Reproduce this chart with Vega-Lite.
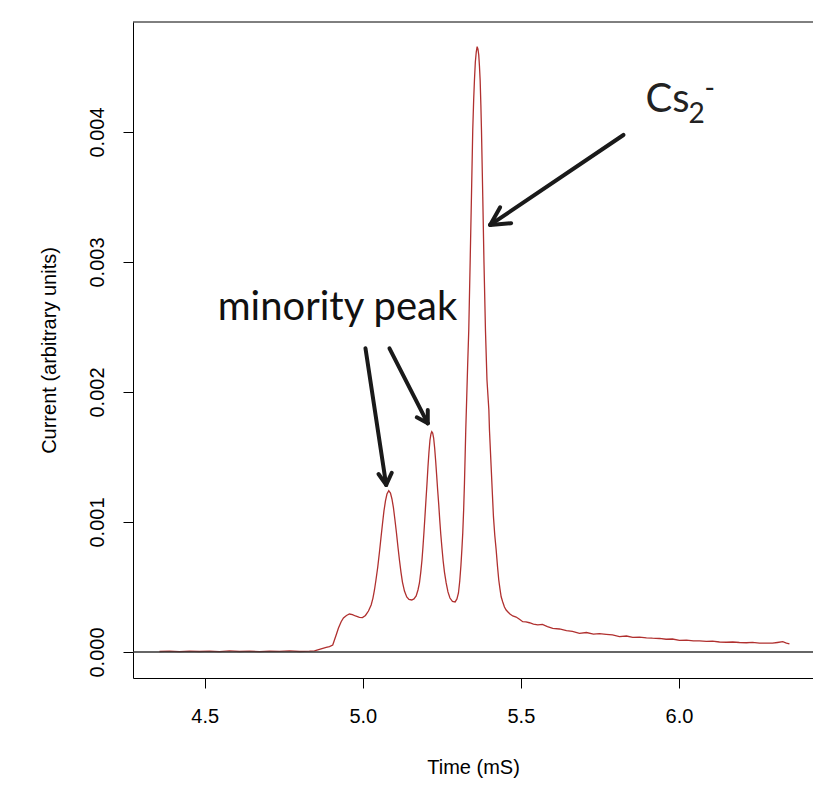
{
  "$schema": "https://vega.github.io/schema/vega-lite/v6.json",
  "width": 680,
  "height": 656,
  "autosize": {"type": "none"},
  "padding": {"left": 133, "top": 22, "right": 0, "bottom": 119},
  "background": "white",
  "config": {
    "view": {"stroke": null},
    "font": "Liberation Sans",
    "axis": {
      "grid": false,
      "domainColor": "#000000",
      "domainWidth": 1,
      "tickColor": "#000000",
      "tickWidth": 1,
      "tickSize": 10,
      "labelColor": "#000000",
      "labelFont": "Liberation Sans",
      "labelFontSize": 20,
      "titleFont": "Liberation Sans",
      "titleFontSize": 20,
      "titleFontWeight": "normal",
      "titleColor": "#000000"
    }
  },
  "datasets": {
    "trace": [
      {"t": 4.3567, "current": 0.000004},
      {"t": 4.3883, "current": 0.000006},
      {"t": 4.42, "current": 0.000003},
      {"t": 4.4516, "current": 0.000007},
      {"t": 4.4832, "current": 0.000004},
      {"t": 4.5149, "current": 0.000006},
      {"t": 4.5465, "current": 0.000003},
      {"t": 4.5781, "current": 0.000008},
      {"t": 4.6098, "current": 0.000004},
      {"t": 4.6414, "current": 0.000006},
      {"t": 4.6731, "current": 0.000003},
      {"t": 4.7047, "current": 0.000007},
      {"t": 4.7363, "current": 0.000005},
      {"t": 4.768, "current": 0.000009},
      {"t": 4.7996, "current": 0.000004},
      {"t": 4.8313, "current": 0.000006},
      {"t": 4.8471, "current": 0.000008},
      {"t": 4.8629, "current": 0.000021},
      {"t": 4.8841, "current": 0.000036},
      {"t": 4.8945, "current": 0.000042},
      {"t": 4.9049, "current": 0.000054},
      {"t": 4.9103, "current": 0.000092},
      {"t": 4.9157, "current": 0.000131},
      {"t": 4.923, "current": 0.000185},
      {"t": 4.9315, "current": 0.000233},
      {"t": 4.9388, "current": 0.000262},
      {"t": 4.9483, "current": 0.000281},
      {"t": 4.9578, "current": 0.000292},
      {"t": 4.9672, "current": 0.000288},
      {"t": 4.9767, "current": 0.000277},
      {"t": 4.9894, "current": 0.000267},
      {"t": 4.9989, "current": 0.000265},
      {"t": 5.0084, "current": 0.000281},
      {"t": 5.0179, "current": 0.000315},
      {"t": 5.0264, "current": 0.000362},
      {"t": 5.0321, "current": 0.000415},
      {"t": 5.0369, "current": 0.000477},
      {"t": 5.0416, "current": 0.000554},
      {"t": 5.0473, "current": 0.000654},
      {"t": 5.0527, "current": 0.000769},
      {"t": 5.0574, "current": 0.000877},
      {"t": 5.0622, "current": 0.000985},
      {"t": 5.0669, "current": 0.001085},
      {"t": 5.0717, "current": 0.001162},
      {"t": 5.0764, "current": 0.001215},
      {"t": 5.0821, "current": 0.001241},
      {"t": 5.0875, "current": 0.001223},
      {"t": 5.0922, "current": 0.001177},
      {"t": 5.097, "current": 0.001108},
      {"t": 5.1017, "current": 0.001015},
      {"t": 5.1065, "current": 0.000915},
      {"t": 5.1112, "current": 0.000808},
      {"t": 5.1159, "current": 0.000708},
      {"t": 5.1207, "current": 0.000615},
      {"t": 5.1254, "current": 0.000538},
      {"t": 5.1318, "current": 0.000469},
      {"t": 5.139, "current": 0.000423},
      {"t": 5.146, "current": 0.000404},
      {"t": 5.1549, "current": 0.0004},
      {"t": 5.1618, "current": 0.000408},
      {"t": 5.1688, "current": 0.000431},
      {"t": 5.1745, "current": 0.000477},
      {"t": 5.1792, "current": 0.000531},
      {"t": 5.1834, "current": 0.000615},
      {"t": 5.1872, "current": 0.000708},
      {"t": 5.1903, "current": 0.000808},
      {"t": 5.1935, "current": 0.000923},
      {"t": 5.1967, "current": 0.001046},
      {"t": 5.1998, "current": 0.001169},
      {"t": 5.203, "current": 0.001292},
      {"t": 5.2061, "current": 0.001423},
      {"t": 5.2093, "current": 0.001538},
      {"t": 5.2125, "current": 0.001631},
      {"t": 5.2156, "current": 0.001677},
      {"t": 5.2181, "current": 0.001695},
      {"t": 5.221, "current": 0.001685},
      {"t": 5.2241, "current": 0.001646},
      {"t": 5.2273, "current": 0.001569},
      {"t": 5.2305, "current": 0.001469},
      {"t": 5.2336, "current": 0.001362},
      {"t": 5.2368, "current": 0.001246},
      {"t": 5.2403, "current": 0.001131},
      {"t": 5.2434, "current": 0.001015},
      {"t": 5.2466, "current": 0.000908},
      {"t": 5.2504, "current": 0.0008},
      {"t": 5.2542, "current": 0.0007},
      {"t": 5.2583, "current": 0.000615},
      {"t": 5.2637, "current": 0.000531},
      {"t": 5.2694, "current": 0.000462},
      {"t": 5.2757, "current": 0.000415},
      {"t": 5.2836, "current": 0.00039},
      {"t": 5.2921, "current": 0.000385},
      {"t": 5.2978, "current": 0.000408},
      {"t": 5.3026, "current": 0.000454},
      {"t": 5.3067, "current": 0.000546},
      {"t": 5.3105, "current": 0.000669},
      {"t": 5.3137, "current": 0.0008},
      {"t": 5.3162, "current": 0.000915},
      {"t": 5.319, "current": 0.001092},
      {"t": 5.3216, "current": 0.0013},
      {"t": 5.3238, "current": 0.001515},
      {"t": 5.3257, "current": 0.001708},
      {"t": 5.3285, "current": 0.001938},
      {"t": 5.3317, "current": 0.002208},
      {"t": 5.3352, "current": 0.002477},
      {"t": 5.3396, "current": 0.003},
      {"t": 5.3437, "current": 0.003502},
      {"t": 5.3478, "current": 0.004015},
      {"t": 5.3507, "current": 0.004246},
      {"t": 5.3532, "current": 0.0044},
      {"t": 5.356, "current": 0.004538},
      {"t": 5.3589, "current": 0.004615},
      {"t": 5.3617, "current": 0.004656},
      {"t": 5.3643, "current": 0.004638},
      {"t": 5.3668, "current": 0.004592},
      {"t": 5.369, "current": 0.004508},
      {"t": 5.3712, "current": 0.0044},
      {"t": 5.3735, "current": 0.004208},
      {"t": 5.3754, "current": 0.004015},
      {"t": 5.3795, "current": 0.003502},
      {"t": 5.3833, "current": 0.003},
      {"t": 5.388, "current": 0.002477},
      {"t": 5.3928, "current": 0.002092},
      {"t": 5.3988, "current": 0.001862},
      {"t": 5.4007, "current": 0.001708},
      {"t": 5.406, "current": 0.001425},
      {"t": 5.4101, "current": 0.001208},
      {"t": 5.4133, "current": 0.001041},
      {"t": 5.4174, "current": 0.0009},
      {"t": 5.4219, "current": 0.000785},
      {"t": 5.426, "current": 0.000662},
      {"t": 5.4301, "current": 0.000554},
      {"t": 5.4339, "current": 0.000485},
      {"t": 5.4377, "current": 0.000425},
      {"t": 5.4427, "current": 0.000385},
      {"t": 5.4481, "current": 0.000346},
      {"t": 5.4535, "current": 0.000323},
      {"t": 5.4592, "current": 0.000308},
      {"t": 5.4655, "current": 0.000292},
      {"t": 5.4744, "current": 0.000277},
      {"t": 5.4851, "current": 0.000269},
      {"t": 5.4956, "current": 0.000252},
      {"t": 5.506, "current": 0.000233},
      {"t": 5.5161, "current": 0.000231},
      {"t": 5.5272, "current": 0.000225},
      {"t": 5.5399, "current": 0.000215},
      {"t": 5.5535, "current": 0.000208},
      {"t": 5.5683, "current": 0.000212},
      {"t": 5.5841, "current": 0.000196},
      {"t": 5.6009, "current": 0.000182},
      {"t": 5.6221, "current": 0.000177},
      {"t": 5.6443, "current": 0.000165},
      {"t": 5.6632, "current": 0.000158},
      {"t": 5.6854, "current": 0.000144},
      {"t": 5.7075, "current": 0.00015},
      {"t": 5.7297, "current": 0.000138},
      {"t": 5.7487, "current": 0.000141},
      {"t": 5.7699, "current": 0.000136},
      {"t": 5.7898, "current": 0.000131},
      {"t": 5.812, "current": 0.000119},
      {"t": 5.8341, "current": 0.000123},
      {"t": 5.854, "current": 0.000113},
      {"t": 5.8752, "current": 0.000115},
      {"t": 5.8973, "current": 0.000109},
      {"t": 5.9163, "current": 0.000106},
      {"t": 5.9385, "current": 0.000104},
      {"t": 5.9596, "current": 0.000098},
      {"t": 5.9796, "current": 0.0001},
      {"t": 6.0017, "current": 0.00009},
      {"t": 6.0239, "current": 0.000092},
      {"t": 6.046, "current": 0.000085},
      {"t": 6.065, "current": 0.000085},
      {"t": 6.0871, "current": 0.000081},
      {"t": 6.1061, "current": 0.000083},
      {"t": 6.1283, "current": 0.000077},
      {"t": 6.1504, "current": 0.000075},
      {"t": 6.1703, "current": 0.000077},
      {"t": 6.1915, "current": 0.000073},
      {"t": 6.2137, "current": 0.000071},
      {"t": 6.2327, "current": 0.000074},
      {"t": 6.2548, "current": 0.000069},
      {"t": 6.276, "current": 0.000069},
      {"t": 6.2959, "current": 0.000068},
      {"t": 6.3117, "current": 0.000073},
      {"t": 6.3285, "current": 0.000079},
      {"t": 6.3402, "current": 0.000069},
      {"t": 6.3497, "current": 0.000062}
    ],
    "arrows": [
      {"x": 5.0084, "y": 0.002336, "x2": 5.0739, "y2": 0.001285},
      {"x": 5.0496, "y": 0.001369, "x2": 5.0739, "y2": 0.001285},
      {"x": 5.0916, "y": 0.001379, "x2": 5.0739, "y2": 0.001285},
      {"x": 5.0843, "y": 0.002336, "x2": 5.2055, "y2": 0.001759},
      {"x": 5.1707, "y": 0.001805, "x2": 5.2055, "y2": 0.001759},
      {"x": 5.2055, "y": 0.001862, "x2": 5.2055, "y2": 0.001759},
      {"x": 5.8245, "y": 0.003977, "x2": 5.4029, "y2": 0.003285},
      {"x": 5.4345, "y": 0.003421, "x2": 5.4029, "y2": 0.003285},
      {"x": 5.4693, "y": 0.003298, "x2": 5.4029, "y2": 0.003285}
    ],
    "single": [{}]
  },
  "layer": [
    {
      "data": {"name": "trace"},
      "mark": {"type": "line", "color": "#b0302f", "strokeWidth": 1.3, "clip": true},
      "encoding": {
        "x": {
          "field": "t",
          "type": "quantitative",
          "scale": {"domain": [4.273, 6.4242], "nice": false, "zero": false},
          "axis": {
            "values": [4.5, 5, 5.5, 6],
            "format": ".1f",
            "title": "Time (mS)",
            "labelPadding": 18,
            "titlePadding": 31
          }
        },
        "y": {
          "field": "current",
          "type": "quantitative",
          "scale": {"domain": [-0.0002, 0.004846], "nice": false, "zero": false},
          "axis": {
            "values": [0, 0.001, 0.002, 0.003, 0.004],
            "format": ".3f",
            "labelAngle": -90,
            "labelAlign": "center",
            "labelBaseline": "bottom",
            "labelPadding": 16,
            "title": "Current (arbitrary units)",
            "titlePadding": 28
          }
        }
      }
    },
    {
      "data": {"name": "single"},
      "mark": {"type": "rule", "color": "#333333", "strokeWidth": 1.6},
      "encoding": {"y": {"datum": 0}}
    },
    {
      "data": {"name": "single"},
      "mark": {"type": "rule", "color": "#000000", "strokeWidth": 1},
      "encoding": {"y": {"datum": 0.004846}}
    },
    {
      "data": {"name": "arrows"},
      "mark": {"type": "rule", "color": "#1a1a1a", "strokeWidth": 4, "strokeCap": "round"},
      "encoding": {
        "x": {"field": "x", "type": "quantitative"},
        "y": {"field": "y", "type": "quantitative"},
        "x2": {"field": "x2"},
        "y2": {"field": "y2"}
      }
    },
    {
      "data": {"name": "single"},
      "mark": {"type": "text", "text": "minority peak", "font": "Lato", "fontSize": 40, "color": "#111111", "align": "center", "baseline": "alphabetic"},
      "encoding": {"x": {"datum": 4.9198}, "y": {"datum": 0.002554}}
    },
    {
      "data": {"name": "single"},
      "mark": {"type": "text", "text": "Cs", "font": "Lato", "fontSize": 40, "color": "#222222", "align": "left", "baseline": "alphabetic"},
      "encoding": {"x": {"datum": 5.8942}, "y": {"datum": 0.004156}}
    },
    {
      "data": {"name": "single"},
      "mark": {"type": "text", "text": "2", "font": "Lato", "fontSize": 28, "color": "#222222", "align": "left", "baseline": "alphabetic"},
      "encoding": {"x": {"datum": 6.0302}, "y": {"datum": 0.004072}}
    },
    {
      "data": {"name": "single"},
      "mark": {"type": "text", "text": "-", "font": "Lato", "fontSize": 28, "color": "#222222", "align": "left", "baseline": "alphabetic"},
      "encoding": {"x": {"datum": 6.0808}, "y": {"datum": 0.004265}}
    }
  ]
}
